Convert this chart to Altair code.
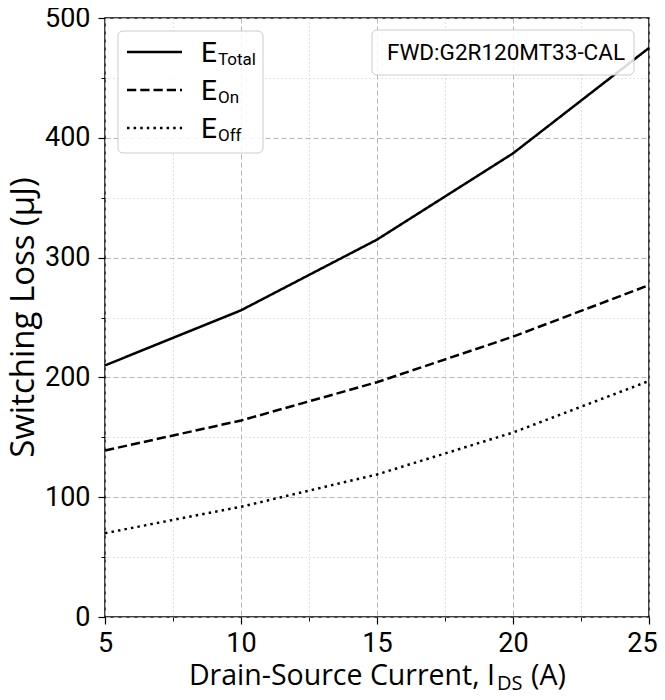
import altair as alt
import pandas as pd

# ---- data ----
current = [5, 10, 15, 20, 25]
e_total = [210, 256, 315, 387, 475]
e_on = [139, 164, 196, 234, 277]
e_off = [70, 92, 119, 154, 197]

x_major = [5, 10, 15, 20, 25]
x_minor = [7.5, 12.5, 17.5, 22.5]
y_major = [0, 100, 200, 300, 400, 500]
y_minor = [50, 150, 250, 350, 450]

series_names = ["Total", "On", "Off"]
series_dash = [[1, 0], [9.25, 4], [2.5, 4.1]]

annotation = "FWD:G2R120MT33-CAL"
x_title_main = "Drain-Source Current, I"
x_title_sub = "DS"
x_title_unit = "(A)"
y_title = "Switching Loss (µJ)"

rows = []
for name, vals in zip(series_names, [e_total, e_on, e_off]):
    for c, v in zip(current, vals):
        rows.append({"current": c, "loss": v, "series": name})
df = pd.DataFrame(rows)
one = pd.DataFrame({"k": [0]})

TICKFONT = "Roboto"
TITLEFONT = "Open Sans"

xscale = alt.Scale(domain=[5, 25], nice=False, zero=False)
yscale = alt.Scale(domain=[0, 500], nice=False)

minor = alt.Chart(df).mark_point(opacity=0).encode(
    x=alt.X("current:Q", scale=xscale, axis=alt.Axis(
        values=x_minor, orient="bottom", labels=False, tickSize=4, tickWidth=1,
        tickColor="black", domain=False, grid=True, gridColor="#cfcfcf",
        gridDash=[1.2, 2.8], gridWidth=1, title=None)),
    y=alt.Y("loss:Q", scale=yscale, axis=alt.Axis(
        values=y_minor, orient="left", labels=False, tickSize=4, tickWidth=1,
        tickColor="black", domain=False, grid=True, gridColor="#cfcfcf",
        gridDash=[1.2, 2.8], gridWidth=1, title=None)),
)

lines = alt.Chart(df).mark_line(color="black", strokeWidth=2.5, strokeCap="butt").encode(
    x=alt.X("current:Q", scale=xscale, axis=alt.Axis(
        values=x_major, orient="bottom", tickSize=7, tickWidth=1.2, tickColor="black",
        domain=False, grid=True, gridColor="#b5b5b5", gridDash=[5, 3], gridWidth=1,
        labelFont=TICKFONT, labelFontSize=27, labelColor="black", labelPadding=6,
        labelOffset={"condition": {"test": "datum.value == 25", "value": -7}, "value": 0},
        labelFlush=False, title=None)),
    y=alt.Y("loss:Q", scale=yscale, axis=alt.Axis(
        values=y_major, orient="left", tickSize=7, tickWidth=1.2, tickColor="black",
        domain=False, grid=True, gridColor="#b5b5b5", gridDash=[5, 3], gridWidth=1,
        labelFont=TICKFONT, labelFontSize=27, labelColor="black", labelPadding=8,
        labelFlush=False, title=None)),
    strokeDash=alt.StrokeDash("series:N", scale=alt.Scale(domain=series_names, range=series_dash), legend=None),
    detail="series:N",
)

layers = [minor, lines]

# legend box
layers.append(alt.Chart(one).mark_rect(fill="white", fillOpacity=0.85, stroke="#cccccc",
                                       strokeWidth=1, cornerRadius=5).encode(
    x=alt.value(13), x2=alt.value(158), y=alt.value(13), y2=alt.value(135)))

row_line_y = [34, 72, 110]
row_base_y = [44, 82, 120]
for name, dash, ly, by in zip(series_names, series_dash, row_line_y, row_base_y):
    layers.append(alt.Chart(one).mark_rule(color="black", strokeWidth=2.5, strokeDash=dash,
                                           strokeCap="butt").encode(
        x=alt.value(22), x2=alt.value(77), y=alt.value(ly)))
    layers.append(alt.Chart(one).mark_text(text="E", font=TICKFONT, fontSize=28, align="left",
                                           baseline="alphabetic", color="black").encode(
        x=alt.value(96), y=alt.value(by)))
    layers.append(alt.Chart(one).mark_text(text=name, font=TICKFONT, fontSize=17, align="left",
                                           baseline="alphabetic", color="black").encode(
        x=alt.value(113), y=alt.value(by + 3)))

# annotation box
layers.append(alt.Chart(one).mark_rect(fill="white", fillOpacity=0.85, stroke="#cccccc",
                                       strokeWidth=1, cornerRadius=5).encode(
    x=alt.value(267), x2=alt.value(529), y=alt.value(12), y2=alt.value(57)))
layers.append(alt.Chart(one).mark_text(text=annotation, font=TICKFONT, fontSize=22.5, align="center",
                                       baseline="middle", color="black").encode(
    x=alt.value(401), y=alt.value(35)))

# axis titles
layers.append(alt.Chart(one).mark_text(text=x_title_main, font=TITLEFONT, fontSize=28.5, align="right",
                                       baseline="alphabetic", color="black").encode(
    x=alt.value(390), y=alt.value(667)))
layers.append(alt.Chart(one).mark_text(text=x_title_sub, font=TITLEFONT, fontSize=20, align="left",
                                       baseline="alphabetic", color="black").encode(
    x=alt.value(392), y=alt.value(672)))
layers.append(alt.Chart(one).mark_text(text=x_title_unit, font=TITLEFONT, fontSize=28.5, align="left",
                                       baseline="alphabetic", color="black").encode(
    x=alt.value(426), y=alt.value(667)))
layers.append(alt.Chart(one).mark_text(text=y_title, font=TITLEFONT, fontSize=33, align="center",
                                       baseline="alphabetic", angle=270, color="black").encode(
    x=alt.value(-71), y=alt.value(299.5)))

chart = alt.layer(*layers).resolve_axis(x="independent", y="independent").properties(
    width=544, height=599,
    autosize=alt.AutoSizeParams(type="none"),
    padding={"left": 97, "top": 10, "right": 8, "bottom": 74},
    background="white",
).configure_view(stroke="black", strokeWidth=1.5)

chart.save("out.html", embed_options={"renderer": "svg", "actions": False})
